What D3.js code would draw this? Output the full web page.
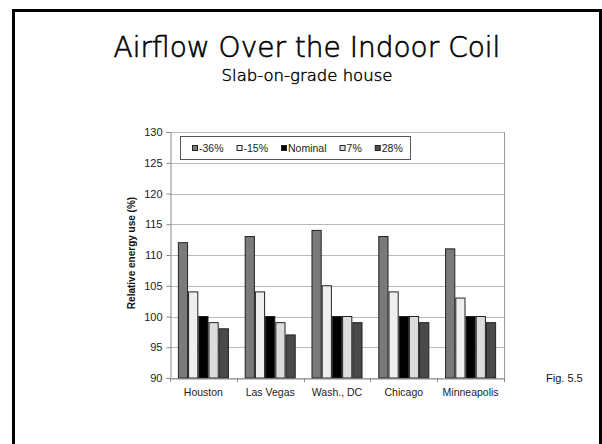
<!DOCTYPE html>
<html>
<head>
<meta charset="utf-8">
<script src="https://cdn.jsdelivr.net/npm/d3@7"></script>
<style>
  html, body { margin: 0; padding: 0; background: #fff; }
  svg { display: block; }
</style>
</head>
<body>
<svg id="chart" width="602" height="444"></svg>
<script>
// Cities along the category axis
const cities = ["Houston", "Las Vegas", "Wash., DC", "Chicago", "Minneapolis"];
// Airflow change relative to nominal (legend / series names)
const seriesNames = ["-36%", "-15%", "Nominal", "7%", "28%"];
// Relative energy use (%) per series, in city order
const airflowMinus36 = [112, 113, 114, 113, 111];
const airflowMinus15 = [104, 104, 105, 104, 103];
const airflowNominal = [100, 100, 100, 100, 100];
const airflowPlus7   = [99, 99, 100, 100, 100];
const airflowPlus28  = [98, 97, 99, 99, 99];
// Value axis ticks
const yTicks = [90, 95, 100, 105, 110, 115, 120, 125, 130];

const seriesValues = [airflowMinus36, airflowMinus15, airflowNominal, airflowPlus7, airflowPlus28];
const seriesFill = ["#7a7a7a", "#efefef", "#000000", "#dcdcdc", "#4a4a4a"];

const svg = d3.select("#chart");

// Slide frame
svg.append("rect")
  .attr("x", 13.5).attr("y", 10.5)
  .attr("width", 587).attr("height", 450)
  .attr("fill", "none").attr("stroke", "#000").attr("stroke-width", 3);

// Titles (light face, thickened a little with a thin outline)
svg.append("text")
  .attr("x", 307).attr("y", 57)
  .attr("text-anchor", "middle")
  .attr("font-family", "DejaVu Sans, sans-serif")
  .attr("font-size", 28)
  .attr("font-weight", 200)
  .attr("fill", "#000")
  .attr("stroke", "#000")
  .attr("stroke-width", 0.6)
  .text("Airflow Over the Indoor Coil");

svg.append("text")
  .attr("x", 307).attr("y", 81)
  .attr("text-anchor", "middle")
  .attr("font-family", "DejaVu Sans, sans-serif")
  .attr("font-size", 16.5)
  .attr("font-weight", 200)
  .attr("fill", "#000")
  .attr("stroke", "#000")
  .attr("stroke-width", 0.45)
  .text("Slab-on-grade house");

const plot = { left: 170, right: 504, top: 132, bottom: 378 };

const x0 = d3.scaleBand()
  .domain(cities)
  .range([plot.left, plot.right])
  .paddingInner(0.236)
  .paddingOuter(0.118);

const x1 = d3.scaleBand()
  .domain(seriesNames)
  .range([0, x0.bandwidth()]);

const y = d3.scaleLinear()
  .domain([90, 130])
  .range([plot.bottom, plot.top]);

const axisFont = "Liberation Sans, Arial, sans-serif";

// Horizontal gridlines
svg.append("g")
  .selectAll("line")
  .data(yTicks)
  .join("line")
  .attr("x1", plot.left).attr("x2", plot.right)
  .attr("y1", d => Math.round(y(d)) + 0.5).attr("y2", d => Math.round(y(d)) + 0.5)
  .attr("stroke", "#b8b8b8").attr("stroke-width", 1);

// Right edge of the plot area
svg.append("line")
  .attr("x1", plot.right + 0.5).attr("x2", plot.right + 0.5)
  .attr("y1", plot.top).attr("y2", plot.bottom)
  .attr("stroke", "#9a9a9a");

// Bars
const groups = svg.append("g")
  .selectAll("g")
  .data(cities)
  .join("g")
  .attr("transform", d => `translate(${x0(d)},0)`);

groups.selectAll("rect")
  .data((city, ci) => seriesNames.map((s, si) => ({ s, si, v: seriesValues[si][ci] })))
  .join("rect")
  .attr("x", d => x1(d.s) + 0.5)
  .attr("y", d => y(d.v))
  .attr("width", x1.bandwidth() - 1)
  .attr("height", d => y(90) - y(d.v))
  .attr("fill", d => seriesFill[d.si])
  .attr("stroke", "#222")
  .attr("stroke-width", 1);

// Value axis
const yAxis = svg.append("g")
  .attr("transform", `translate(${plot.left + 0.5},0)`)
  .call(d3.axisLeft(y).tickValues(yTicks).tickSize(4).tickPadding(4));
yAxis.select(".domain").attr("stroke", "#8a8a8a");
yAxis.selectAll(".tick line").attr("stroke", "#8a8a8a");
yAxis.selectAll("text")
  .attr("font-family", axisFont).attr("font-size", 11).attr("fill", "#222");

// Category axis
const xAxis = svg.append("g")
  .attr("transform", `translate(0,${plot.bottom + 0.5})`)
  .call(d3.axisBottom(x0).tickSize(0).tickPadding(10));
xAxis.select(".domain").attr("stroke", "#8a8a8a");
xAxis.selectAll("text")
  .attr("font-family", axisFont).attr("font-size", 10.5).attr("fill", "#222");
// Tick marks between categories
const boundaries = cities.map(c => x0(c) - x0.step() * x0.paddingInner() / 2).concat([plot.right]);
svg.append("g")
  .selectAll("line")
  .data(boundaries)
  .join("line")
  .attr("x1", d => Math.round(d) + 0.5).attr("x2", d => Math.round(d) + 0.5)
  .attr("y1", plot.bottom).attr("y2", plot.bottom + 4)
  .attr("stroke", "#8a8a8a");

// Axis title
svg.append("text")
  .attr("transform", `translate(135,253) rotate(-90)`)
  .attr("text-anchor", "middle")
  .attr("font-family", axisFont)
  .attr("font-size", 10)
  .attr("font-weight", "bold")
  .attr("fill", "#111")
  .text("Relative energy use (%)");

// Legend
const legend = svg.append("g");
legend.append("rect")
  .attr("x", 180.5).attr("y", 136.5)
  .attr("width", 230).attr("height", 23)
  .attr("fill", "#fff").attr("stroke", "#555").attr("stroke-width", 1);

let lx = 192;
seriesNames.forEach((name, i) => {
  legend.append("rect")
    .attr("x", lx + 0.5).attr("y", 145.5)
    .attr("width", 5).attr("height", 5)
    .attr("fill", seriesFill[i]).attr("stroke", "#222");
  const t = legend.append("text")
    .attr("x", lx + 7).attr("y", 152)
    .attr("font-family", axisFont).attr("font-size", 10.5).attr("fill", "#222")
    .text(name);
  lx += 7 + t.node().getComputedTextLength() + 13;
});

// Figure reference
svg.append("text")
  .attr("x", 546).attr("y", 382)
  .attr("font-family", axisFont)
  .attr("font-size", 11)
  .attr("fill", "#111")
  .text("Fig. 5.5");
</script>
</body>
</html>
